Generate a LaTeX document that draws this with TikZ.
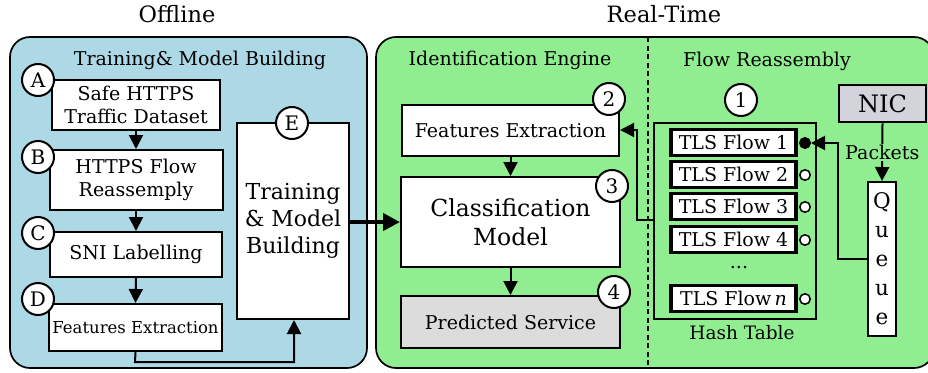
\documentclass[tikz,border=0pt]{standalone}
\usepackage{fontspec}
\setmainfont{DejaVu Serif}
\usetikzlibrary{arrows.meta}
\definecolor{panelblue}{HTML}{ADD8E6}
\definecolor{panelgreen}{HTML}{90EE90}
\definecolor{boxgray}{HTML}{DCDCDC}
\definecolor{nicgray}{HTML}{D3D3DB}
\tikzset{
  panel/.style={draw=black, line width=1.7pt, rounded corners=20pt},
  blockbox/.style={draw=black, fill=white, line width=2pt, inner sep=0pt, align=center, font=\fontsize{19}{22.5}\selectfont},
  badge/.style={circle, draw=black, fill=white, line width=2pt, minimum size=32pt, inner sep=0pt, font=\fontsize{20}{22}\selectfont},
  flowbox/.style={draw=black, fill=white, line width=3.2pt, inner sep=0pt, minimum width=125pt, minimum height=26pt, font=\fontsize{19}{22}\selectfont},
  slot/.style={circle, draw=black, fill=white, line width=1.5pt, minimum size=10.5pt, inner sep=0pt},
  conn/.style={line width=2pt, -{Triangle[length=14pt,width=14pt]}},
  titletext/.style={font=\fontsize{22.5}{26}\selectfont},
  headtext/.style={font=\fontsize{19}{22}\selectfont},
}
\begin{document}
\begin{tikzpicture}[x=1pt,y=-1pt]
\useasboundingbox (0,0) rectangle (928,372);
\begin{scope}
\clip (0,0) rectangle (928,372);
% panels
\draw[panel, fill=panelblue] (10,37) rectangle (367,368);
\draw[panel, fill=panelgreen] (376,37) rectangle (934,368);
\end{scope}
\draw[line width=1.2pt, dash pattern=on 5pt off 3.5pt] (648,37) -- (648,368);

% titles
\node[titletext] (toff) at (177,14) {Offline};
\node[titletext] (trt) at (664,14) {Real-Time};
\node[headtext] (hleft) at (200,60) {Training\& Model Building};
\node[headtext] (hid) at (510,60) {Identification Engine};
\node[headtext] (hflow) at (767,61) {Flow Reassembly};

% offline boxes
\node[blockbox, minimum width=168pt, minimum height=50pt] (A) at (136,105) {Safe HTTPS\\Traffic Dataset};
\node[blockbox, minimum width=173pt, minimum height=60pt] (B) at (136,180) {HTTPS Flow\\Reassemply};
\node[blockbox, minimum width=172pt, minimum height=45pt] (C) at (136,254.5) {SNI Labelling};
\node[blockbox, minimum width=173pt, minimum height=47pt, font=\fontsize{16.5}{19}\selectfont] (D) at (135.5,327.5) {Features Extraction};
\node[blockbox, minimum width=112pt, minimum height=196pt, font=\fontsize{22}{27}\selectfont] (E) at (293,221) {Training\\\& Model\\Building};

\node[badge] (bA) at (38,80) {A};
\node[badge] (bB) at (38,157) {B};
\node[badge] (bC) at (38,233) {C};
\node[badge] (bD) at (38,299) {D};
\node[badge] (bE) at (292,123) {E};

\draw[conn] (A.south) -- (B.north);
\draw[conn] (B.south) -- (C.north);
\draw[conn] (C.south) -- (D.north);
\coordinate (d1) at (135,362);
\coordinate (d2) at (294,362);
\draw[conn] (D.south) -- (d1) -- (d2) -- (E.south -| d2);

% real-time engine
\node[blockbox, minimum width=217pt, minimum height=51pt] (FE) at (510.5,130.5) {Features Extraction};
\node[blockbox, minimum width=219pt, minimum height=90pt, font=\fontsize{23.5}{29}\selectfont] (CM) at (510.5,222) {Classification\\Model};
\node[blockbox, fill=boxgray, minimum width=219pt, minimum height=52pt] (PS) at (510.5,322) {Predicted Service};
\node[badge] (b2) at (609,99) {2};
\node[badge] (b3) at (612,186) {3};
\node[badge] (b4) at (614,292) {4};

\draw[conn] (FE.south) -- (CM.north);
\draw[conn] (CM.south) -- (PS.north);
\draw[line width=4pt, -{Triangle[length=17pt,width=17pt]}] (E.east |- CM.west) -- (CM.west);

% flow reassembly
\node[draw=black, line width=2pt, minimum width=162pt, minimum height=196pt, inner sep=0pt] (HT) at (735,221) {};
\node[headtext, font=\fontsize{18.5}{22}\selectfont] (htl) at (742,333) {Hash Table};
\node[badge] (b1) at (741,100) {1};

\node[flowbox] (f1) at (733.5,142.5) {TLS Flow 1};
\node[flowbox] (f2) at (733.5,174.5) {TLS Flow 2};
\node[flowbox] (f3) at (733.5,206.5) {TLS Flow 3};
\node[flowbox] (f4) at (733.5,239.5) {TLS Flow 4};
\node[font=\fontsize{19}{22}\selectfont] (dots) at (739,268) {...};
\node[flowbox] (fn) at (733.5,298.5) {TLS Flow\,\textit{n}};

\node[slot, fill=black] (s1) at (805,143) {};
\node[slot] (s2) at (805,175) {};
\node[slot] (s3) at (805,207) {};
\node[slot] (s4) at (805,240) {};
\node[slot] (sn) at (805,299) {};

\node[draw=black, fill=nicgray, line width=2.8pt, minimum width=87pt, minimum height=37pt, inner sep=0pt, font=\fontsize{24}{26}\selectfont] (NIC) at (882.5,103.5) {NIC};
\node[draw=black, fill=white, line width=2pt, minimum width=28pt, minimum height=154pt, inner sep=0pt, align=center, font=\fontsize{21.5}{29}\selectfont] (Q) at (882,259) {Q\\u\\e\\u\\e};

\draw[conn] (NIC.south) -- node[fill=panelgreen, inner sep=1pt, font=\fontsize{19}{22}\selectfont] (pk) {Packets} (Q.north);

\coordinate (q1) at (838,259);
\coordinate (q2) at (838,143);
\draw[conn] (Q.west |- q1) -- (q1) -- (q2) -- (s1.east);

\coordinate (h1) at (637,220);
\coordinate (h2) at (637,130);
\draw[conn] (HT.west |- h1) -- (h1) -- (h2) -- (FE.east |- h2);
\end{tikzpicture}
\end{document}
